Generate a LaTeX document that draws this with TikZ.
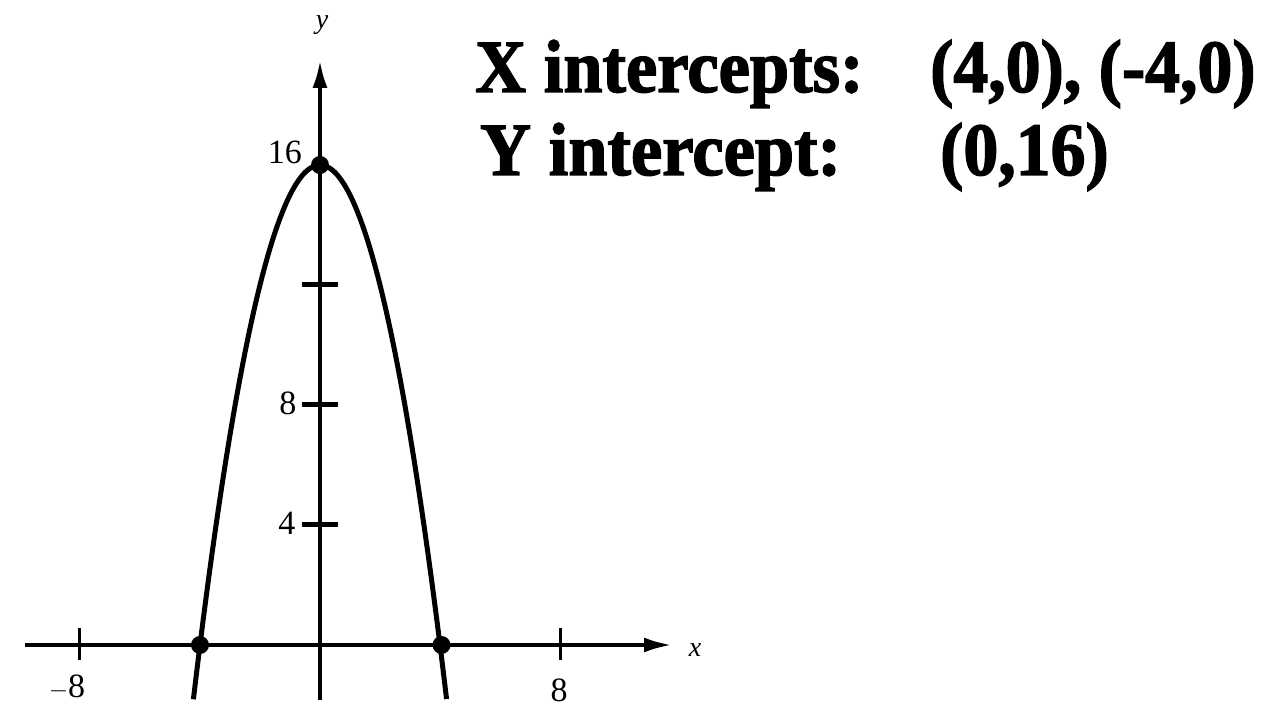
\documentclass[tikz,border=0pt]{standalone}
\usepackage{fontspec}
\setmainfont{Liberation Serif}
\newfontfamily\heavy{Liberation Serif}[BoldFeatures={FakeBold=2}]
\usetikzlibrary{arrows.meta}
\tikzset{
  axisline/.style={line width=4pt, -{Latex[length=28pt,width=15pt]}},
  curveline/.style={line width=5pt},
  tickline/.style={line width=5pt},
  dotmark/.style={circle, fill=black, inner sep=0pt, minimum size=18pt},
  ticklabel/.style={font=\fontsize{34}{40}\selectfont, inner sep=0pt},
  axislabel/.style={font=\fontsize{28}{32}\selectfont\itshape, inner sep=0pt},
  bigtext/.style={font=\heavy\bfseries\fontsize{75}{80}\selectfont, inner sep=0pt, anchor=base west}
}
\begin{document}
\begin{tikzpicture}[x=30pt,y=30pt]
\useasboundingbox (-320pt,-64pt) rectangle (954pt,645pt);
% axes
\coordinate (xl) at (-295pt,0);
\coordinate (xr) at (352pt,0);
\coordinate (yb) at (0,-55pt);
\coordinate (yt) at (0,585pt);
\draw[axisline] (xl) -- (xr);
\draw[axisline] (yb) -- (yt);
\node[axislabel] (xlab) at (375pt,-5pt) {x};
\node[axislabel] (ylab) at (2pt,620pt) {y};
% y ticks
\foreach \v in {4,8,12} {
  \coordinate (tl\v) at (-0.6,\v);
  \coordinate (tr\v) at (0.6,\v);
  \draw[tickline] (tl\v) -- (tr\v);
}
% x ticks
\foreach \n/\v in {m/-8,p/8} {
  \coordinate (tb\n) at (\v,-0.5);
  \coordinate (tt\n) at (\v,0.55);
  \draw[line width=3pt] (tb\n) -- (tt\n);
}
% tick labels
\node[ticklabel] (l16) at (-35pt,493pt) {16};
\node[ticklabel] (l8) at (-32pt,242pt) {8};
\node[ticklabel] (l4) at (-33pt,122pt) {4};
\node[ticklabel] (lm8) at (-253pt,-42pt) {$-$8};
\node[ticklabel] (lp8) at (239pt,-45pt) {8};
% curve
\draw[curveline] plot[domain=-4.22:4.22, samples=80, smooth] (\x,{16-\x*\x});
% intercept dots
\node[dotmark] (a) at (-4,0) {};
\node[dotmark] (b) at (4.05,0) {};
\node[dotmark] (c) at (0,16) {};
% text
\node[bigtext] (xi) at (155pt,553pt) {\scalebox{0.94}[1]{X intercepts:}};
\node[bigtext] (xv) at (610pt,553pt) {\scalebox{0.93}[1]{(4,0), (-4,0)}};
\node[bigtext] (yi) at (160pt,470pt) {\scalebox{0.94}[1]{Y intercept:}};
\node[bigtext] (yv) at (620pt,470pt) {\scalebox{0.93}[1]{(0,16)}};
\end{tikzpicture}
\end{document}
